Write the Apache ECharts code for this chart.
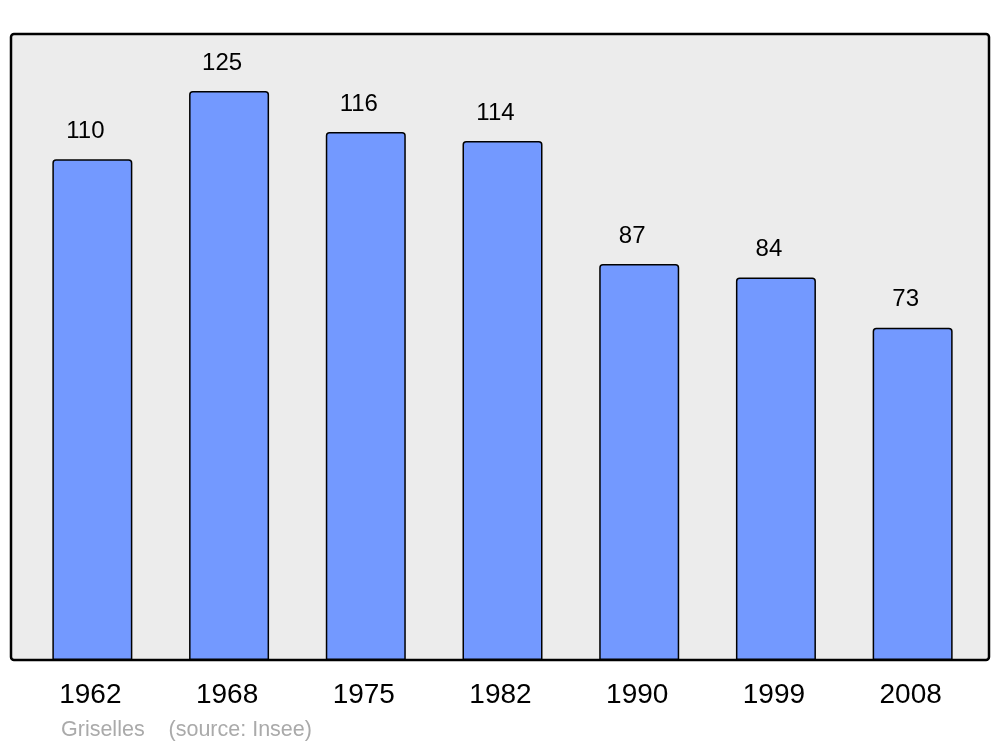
<!DOCTYPE html>
<html>
<head>
<meta charset="utf-8">
<script src="https://cdn.jsdelivr.net/npm/echarts@6/dist/echarts.min.js"></script>
<style>html,body{margin:0;padding:0;background:#fff}#c{width:1000px;height:747px}</style>
</head>
<body>
<div id="c"></div>
<script>
const years = ['1962','1968','1975','1982','1990','1999','2008'];
const population = [110,125,116,114,87,84,73];
const footerText = 'Griselles    (source: Insee)';

const chart = echarts.init(document.getElementById('c'), null, {renderer:'canvas'});
chart.setOption({
  animation:false,
  backgroundColor:'#ffffff',
  graphic:[
    {type:'rect', z:-10, silent:true,
     shape:{x:11, y:34, width:978, height:626, r:3},
     style:{fill:'#ececec', stroke:'#000', lineWidth:2.5}},
    {type:'text', left:61, top:719,
     style:{text:footerText, fill:'#aaaaaa', font:'21.5px "Liberation Sans", Arial, sans-serif'}}
  ],
  grid:{left:24, right:19, top:34, bottom:87},
  xAxis:{type:'category', data:years,
    axisLine:{show:false}, axisTick:{show:false},
    axisLabel:{color:'#000', fontSize:28, fontFamily:'Liberation Sans', margin:21, padding:[0,4,0,0]}},
  yAxis:{type:'value', min:0, max:137.5, show:false, splitLine:{show:false}},
  series:[{type:'bar', data:population, barWidth:80,
    itemStyle:{color:'#7399ff', borderColor:'#000', borderWidth:1.5, borderRadius:[3,3,0,0]},
    label:{show:true, position:'top', distance:16, offset:[-7,0], color:'#000',
      fontSize:24, fontFamily:'Liberation Sans'}}]
});
</script>
</body>
</html>
